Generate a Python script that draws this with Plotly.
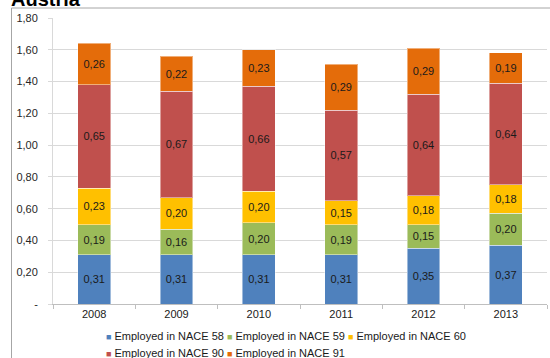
import plotly.graph_objects as go

years = ["2008", "2009", "2010", "2011", "2012", "2013"]
series_names = ["Employed in NACE 58", "Employed in NACE 59", "Employed in NACE 60",
                "Employed in NACE 90", "Employed in NACE 91"]
nace58 = [0.31, 0.31, 0.31, 0.31, 0.35, 0.37]
nace59 = [0.19, 0.16, 0.20, 0.19, 0.15, 0.20]
nace60 = [0.23, 0.20, 0.20, 0.15, 0.18, 0.18]
nace90 = [0.65, 0.67, 0.66, 0.57, 0.64, 0.64]
nace91 = [0.26, 0.22, 0.23, 0.29, 0.29, 0.19]
colors = ["#4F81BD", "#9BBB59", "#FFC000", "#C0504D", "#E46C0A"]
ytick_vals = [0, 0.2, 0.4, 0.6, 0.8, 1.0, 1.2, 1.4, 1.6, 1.8]
ytick_text = ["-", "0,20", "0,40", "0,60", "0,80", "1,00", "1,20", "1,40", "1,60", "1,80"]

FONT = "Liberation Sans, Arial"
fig = go.Figure()
for name, vals, col in zip(series_names, [nace58, nace59, nace60, nace90, nace91], colors):
    fig.add_trace(go.Bar(
        x=years, y=vals, name=name, showlegend=False,
        marker=dict(color=col, line=dict(color="rgba(255,255,255,0.45)", width=1)),
        text=[f"{v:.2f}".replace(".", ",") for v in vals],
        textposition="inside", insidetextanchor="middle", textangle=0,
        constraintext="none",
        textfont=dict(size=11, color="#1a1a1a", family=FONT),
        hoverinfo="skip",
    ))

W, H = 550, 358
L, R, T, B = 53, 3, 18, 54
pw, ph = W - L - R, H - T - B


def px_x(x):
    return (x - L) / pw


def px_y(y):
    return (H - B - y) / ph


annotations = [dict(text="<b>Austria</b>", xref="paper", yref="paper",
                    x=px_x(9), y=px_y(12), xanchor="left", yanchor="bottom",
                    showarrow=False, font=dict(size=20, color="black", family=FONT))]

# legend drawn as text entries (two rows, as in the reference)
legend_pos = [(104, 336), (225, 336), (346, 336), (104, 353), (225, 353)]
for name, col, (lx, ly) in zip(series_names, colors, legend_pos):
    annotations.append(dict(
        text=f"<span style='color:{col};font-size:9px'>■</span> {name}",
        xref="paper", yref="paper", x=px_x(lx), y=px_y(ly),
        xanchor="left", yanchor="middle", showarrow=False,
        font=dict(size=11, color="#1a1a1a", family=FONT)))

fig.update_layout(
    width=W, height=H,
    barmode="stack", bargap=0.6,
    margin=dict(l=L, r=R, t=T, b=B),
    plot_bgcolor="white", paper_bgcolor="white",
    font=dict(family=FONT, size=11, color="#1a1a1a"),
    showlegend=False,
    annotations=annotations,
    shapes=[dict(type="rect", xref="paper", yref="paper",
                 x0=px_x(11.5), x1=px_x(552), y0=px_y(362), y1=px_y(8),
                 line=dict(color="#A6A6A6", width=1), fillcolor="rgba(0,0,0,0)",
                 layer="below")],
)
fig.update_yaxes(range=[0, 1.8], tickvals=ytick_vals, ticktext=ytick_text,
                 showgrid=True, gridcolor="#D9D9D9", gridwidth=1,
                 showline=True, linecolor="#D9D9D9", ticks="outside", ticklen=4,
                 tickcolor="#D9D9D9", zeroline=False, ticklabelstandoff=8,
                 tickfont=dict(size=11, color="#262626"))
fig.update_xaxes(showline=True, linecolor="#BFBFBF", ticks="outside", ticklen=4,
                 tickcolor="#BFBFBF", tickson="boundaries",
                 tickfont=dict(size=11, color="#1a1a1a"))

fig.write_html("out.html", config={"displayModeBar": False},
               post_script="document.body.style.margin='0';document.body.style.overflow='hidden';")
